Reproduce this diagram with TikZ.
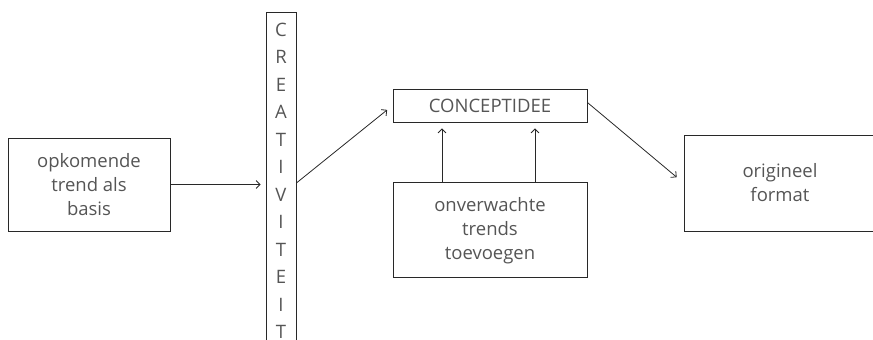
\documentclass[tikz,border=0pt]{standalone}
\usepackage{fontspec}
\setmainfont{Open Sans}
\usetikzlibrary{
  arrows.meta,
  positioning,
}
\definecolor{boxline}{RGB}{40,40,40}
\definecolor{boxtext}{RGB}{85,85,85}
\tikzset{
  ideabox/.style={
    rectangle, draw=boxline, line width=0.8pt,
    text=boxtext, align=center, inner sep=0pt,
    font=\fontsize{18.5}{24}\selectfont
  },
  stackbox/.style={
    ideabox, minimum width=30pt, minimum height=338pt,
    font=\fontsize{18.5}{27.5}\selectfont
  },
  flowarrow/.style={
    -{Straight Barb[length=4pt,width=8pt]}, line width=0.8pt, boxline
  },
}
\begin{document}
\begin{tikzpicture}[x=1pt, y=-1pt]

  \useasboundingbox (0,0) rectangle (873,340);

  % ── Boxes ──
  \node[ideabox, minimum width=162pt, minimum height=93pt] (trend) at (89,184.5)
    {opkomende\\trend als\\basis};
  \node[stackbox] (creat) at (281,181)
    {C\\R\\E\\A\\T\\I\\V\\I\\T\\E\\I\\T};
  \node[ideabox, minimum width=194pt, minimum height=33pt] (concept) at (490,105.5)
    {CONCEPTIDEE};
  \node[ideabox, minimum width=194pt, minimum height=95pt, below=60pt of concept] (extra)
    {onverwachte\\trends\\toevoegen};
  \node[ideabox, minimum width=192pt, minimum height=96pt] (format) at (780,183)
    {origineel\\format};

  % ── Arrows ──
  \draw[flowarrow, shorten >=5pt] (trend.east) -- (trend.east -| creat.west);
  \draw[flowarrow, shorten >=7pt] ([yshift=-2pt]creat.east) -- (concept.west);
  \draw[flowarrow, shorten >=6pt] ([xshift=-48pt]extra.north) -- ([xshift=-48pt]concept.south);
  \draw[flowarrow, shorten >=6pt] ([xshift=45pt]extra.north) -- ([xshift=45pt]concept.south);
  \draw[flowarrow, shorten >=9pt] ([yshift=3pt]concept.east) -- (format.west);

\end{tikzpicture}
\end{document}
